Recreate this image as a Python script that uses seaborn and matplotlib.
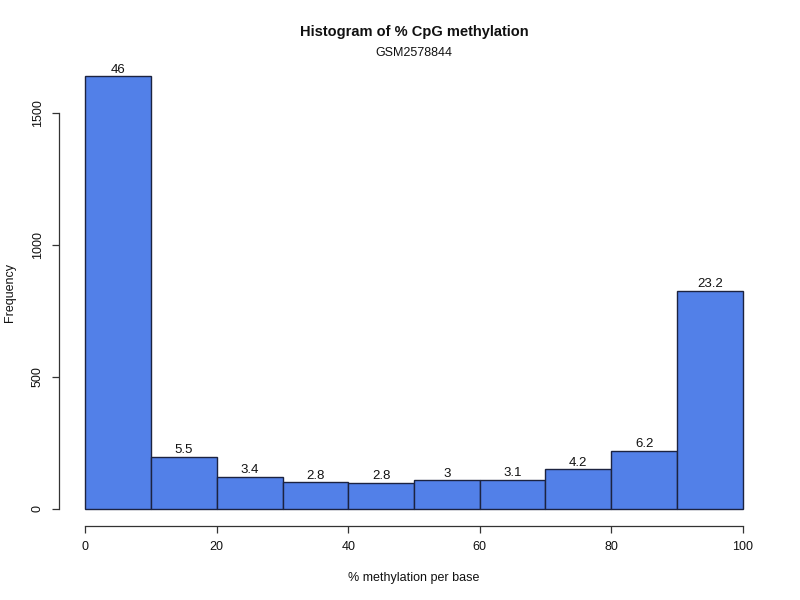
import matplotlib
matplotlib.use("Agg")
import matplotlib.pyplot as plt
import seaborn as sns
import numpy as np
import pandas as pd

bin_edges = [0, 10, 20, 30, 40, 50, 60, 70, 80, 90, 100]
counts = [1640, 197, 121, 100, 99, 107, 110, 150, 220, 826]
pct_labels = ["46", "5.5", "3.4", "2.8", "2.8", "3", "3.1", "4.2", "6.2", "23.2"]
x_ticks = [0, 20, 40, 60, 80, 100]
y_ticks = [0, 500, 1000, 1500]

sns.set_theme(style="white")
plt.rcParams['font.family'] = ['Liberation Sans', 'DejaVu Sans']

mids = [(a + b) / 2 for a, b in zip(bin_edges[:-1], bin_edges[1:])]
df = pd.DataFrame({"x": mids, "w": counts})

fig = plt.figure(figsize=(8, 6), dpi=100)
ax = fig.add_axes([59/800, 1 - 526/600, (769-59)/800, (526-59)/600])

sns.histplot(data=df, x="x", weights="w", bins=bin_edges, ax=ax,
             color="#5280E8", edgecolor="#1c2340", linewidth=1.0, alpha=1.0)

ymax = max(counts)
ax.set_xlim(-4, 104)
ax.set_ylim(-0.04 * ymax, ymax * 1.04)

for p, lab in zip(ax.patches, pct_labels):
    ax.text(p.get_x() + p.get_width() / 2, p.get_height() + 2, lab,
            ha="center", va="bottom", fontsize=9.5, color="#111111")

for side in ["top", "right"]:
    ax.spines[side].set_visible(False)
ax.spines["left"].set_bounds(0, 1500)
ax.spines["bottom"].set_bounds(0, 100)
for side in ["left", "bottom"]:
    ax.spines[side].set_color("#333333")
    ax.spines[side].set_linewidth(0.9)

ax.set_xticks(x_ticks)
ax.set_yticks(y_ticks)
ax.set_yticklabels([str(v) for v in y_ticks], rotation=90, va="center")
ax.tick_params(axis="both", which="both", length=5, width=0.9, color="#333333",
               labelsize=9, labelcolor="#111111", direction="out",
               bottom=True, left=True)
ax.tick_params(axis="x", pad=6)
ax.tick_params(axis="y", pad=6)

ax.set_xlabel("")
ax.set_ylabel("")
fig.text(414/800, 1 - 578/600, "% methylation per base", ha="center", va="center",
         fontsize=9, color="#111111")
fig.text(10/800, 1 - 292/600, "Frequency", ha="center", va="center",
         rotation=90, fontsize=9, color="#111111")
fig.text(414/800, 1 - 32/600, "Histogram of % CpG methylation", ha="center",
         va="center", fontsize=10.5, fontweight="bold", color="#111111")
fig.text(414/800, 1 - 53/600, "GSM2578844", ha="center", va="center",
         fontsize=9, color="#111111")

fig.savefig("out.png", dpi=100)
